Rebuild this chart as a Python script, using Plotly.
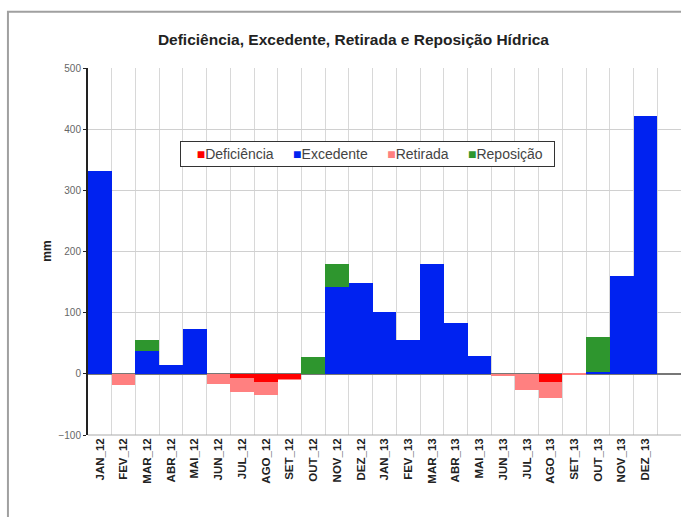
import plotly.graph_objects as go

categories = ["JAN_12", "FEV_12", "MAR_12", "ABR_12", "MAI_12", "JUN_12", "JUL_12", "AGO_12",
              "SET_12", "OUT_12", "NOV_12", "DEZ_12", "JAN_13", "FEV_13", "MAR_13", "ABR_13",
              "MAI_13", "JUN_13", "JUL_13", "AGO_13", "SET_13", "OUT_13", "NOV_13", "DEZ_13"]
deficiencia = [0, 0, 0, 0, 0, 0, -7, -14, -9, 0, 0, 0, 0, 0, 0, 0, 0, 0, 0, -14, 0, 0, 0, 0]
excedente = [331, 0, 37, 14, 73, 0, 0, 0, 0, 0, 142, 149, 101, 56, 180, 83, 29, 0, 0, 0, 0, 3, 160, 421]
retirada = [0, -18, 0, 0, 0, -17, -23, -20, -1, 0, 0, 0, 0, 0, 0, 0, 0, -4, -27, -25, -2, 0, 0, 0]
reposicao = [0, 0, 19, 0, 0, 0, 0, 0, 0, 27, 37, 0, 0, 0, 0, 0, 0, 0, 0, 0, 0, 58, 0, 0]

series_names = ["Deficiência", "Excedente", "Retirada", "Reposição"]
series_colors = ["#FF0000", "#0022F0", "#FF8080", "#2E962E"]
series_values = [deficiencia, excedente, retirada, reposicao]

x = list(range(len(categories)))
font_family = "Liberation Sans, Arial, sans-serif"

fig = go.Figure()
for name, color, vals in zip(series_names, series_colors, series_values):
    fig.add_trace(go.Bar(x=x, y=vals, name=name, marker=dict(color=color, line=dict(width=0))))

fig.update_layout(
    width=681, height=517,
    margin=dict(l=88, r=0, t=68, b=82),
    paper_bgcolor="white", plot_bgcolor="white",
    barmode="relative", bargap=0,
    font=dict(family=font_family, color="#333333"),
    title=dict(text="<b>Deficiência, Excedente, Retirada e Reposição Hídrica</b>",
               x=0.519, xanchor="center", y=1 - 40 / 517, yanchor="middle",
               font=dict(size=15.5, color="#222222", family=font_family)),
    showlegend=False,
    xaxis=dict(range=[-0.5, 24.5], tickmode="array", tickvals=x,
               ticktext=["<b>" + c + "</b>" for c in categories],
               tickangle=-90, tickfont=dict(size=11.5, color="#222222", family="Liberation Sans, Arial"),
               showgrid=False, zeroline=False, showline=False, ticks="",
               minor=dict(tick0=0.5, dtick=1, showgrid=True, gridcolor="#D8D8D8", gridwidth=1, ticks=""),
               fixedrange=True),
    yaxis=dict(range=[-100, 500], dtick=100, tickfont=dict(size=10, color="#666666"),
               showgrid=True, gridcolor="#D0D0D0", gridwidth=1,
               zeroline=True, zerolinecolor="#777777", zerolinewidth=1.5,
               showline=True, linecolor="#222222", linewidth=2, ticks="outside",
               ticklen=3, tickcolor="#222222", mirror=False),
)

# legend box (Excel style: small square swatch right before each label)
gap = "&nbsp;" * 5
legend_text = "&nbsp;" * 3 + gap.join(
    f"<span style='color:{c}'>■</span>{n}" for n, c in zip(series_names, series_colors)) + "&nbsp;" * 2
fig.add_annotation(text=legend_text, xref="paper", yref="paper", x=0.4705, y=0.7657,
                   xanchor="center", yanchor="middle", showarrow=False,
                   font=dict(size=14, color="#444444"),
                   bordercolor="#333333", borderwidth=1, borderpad=4, bgcolor="white")

fig.add_annotation(text="<b>mm</b>", xref="paper", yref="paper", x=-0.0705, y=0.5,
                   xanchor="center", textangle=-90, showarrow=False,
                   font=dict(size=12, color="#222222"))

# bottom plot border
fig.add_shape(type="line", xref="paper", yref="paper", x0=0, x1=1, y0=0, y1=0,
              line=dict(color="#AAAAAA", width=1))
# outer chart border (cropped in the reference)
fig.add_shape(type="rect", xref="paper", yref="paper", x0=-0.135, x1=1.05, y0=-0.26, y1=1.153,
              line=dict(color="#A0A0A0", width=2), layer="below")

fig.write_html("out.html", config={"displayModeBar": False},
               post_script="document.body.style.margin='0px';document.body.style.overflow='hidden';")
